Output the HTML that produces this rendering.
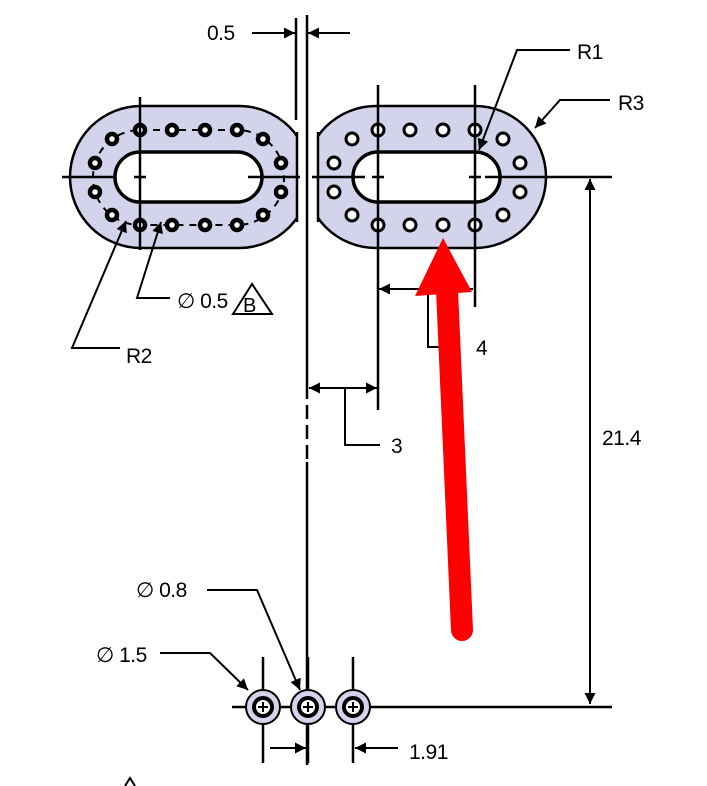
<!DOCTYPE html>
<html><head><meta charset="utf-8"><style>html,body{margin:0;padding:0;background:#fff}svg{display:block}text{font-family:"Liberation Sans",sans-serif;font-size:21px;fill:#000;letter-spacing:-0.5px}</style></head><body>
<svg width="707" height="786" viewBox="0 0 707 786" xmlns="http://www.w3.org/2000/svg">
<defs>
<marker id="a" viewBox="0 0 10 10" refX="10" refY="5" markerWidth="20" markerHeight="11" markerUnits="userSpaceOnUse" orient="auto"><path d="M0,0L10,5L0,10z" fill="#000"/></marker>
<clipPath id="cl"><rect x="0" y="0" width="297" height="786"/></clipPath>
<clipPath id="cr"><rect x="318" y="0" width="400" height="786"/></clipPath>
</defs>
<g stroke="#000" stroke-width="2.5" fill="none">
<g clip-path="url(#cl)"><rect x="70" y="106" width="240" height="142" rx="71" fill="#d3d3ec"/></g>
<line x1="297" y1="132" x2="297" y2="222"/>
<g clip-path="url(#cr)"><rect x="305" y="106" width="241" height="142" rx="71" fill="#d3d3ec"/></g>
<line x1="318" y1="132" x2="318" y2="222"/>
<rect x="115" y="152" width="147" height="50" rx="25" fill="#fff" stroke-width="3.5"/>
<rect x="353" y="152" width="147" height="50" rx="25" fill="#fff" stroke-width="3.5"/>
<rect x="93" y="130" width="191" height="95" rx="47" stroke-width="2" stroke-dasharray="7,6"/>
</g>
<g stroke="#000" stroke-width="3" fill="#fff">
<circle cx="378" cy="130" r="6"/><circle cx="410" cy="130" r="6"/><circle cx="443" cy="130" r="6"/><circle cx="475" cy="130" r="6"/>
<circle cx="378" cy="225" r="6"/><circle cx="410" cy="225" r="6"/><circle cx="443" cy="225" r="6"/><circle cx="475" cy="225" r="6"/>
<circle cx="352" cy="139" r="6"/><circle cx="334" cy="163" r="6"/><circle cx="334" cy="192" r="6"/><circle cx="352" cy="215" r="6"/>
<circle cx="503" cy="139" r="6"/><circle cx="520" cy="163" r="6"/><circle cx="520" cy="192" r="6"/><circle cx="503" cy="215" r="6"/>
</g>
<g stroke="#000" stroke-width="4.5" fill="#fff">
<circle cx="140" cy="130" r="5"/><circle cx="172" cy="130" r="5"/><circle cx="205" cy="130" r="5"/><circle cx="237" cy="130" r="5"/>
<circle cx="140" cy="225" r="5"/><circle cx="172" cy="225" r="5"/><circle cx="205" cy="225" r="5"/><circle cx="237" cy="225" r="5"/>
<circle cx="112" cy="139" r="5"/><circle cx="95" cy="163" r="5"/><circle cx="95" cy="192" r="5"/><circle cx="112" cy="215" r="5"/>
<circle cx="263" cy="139" r="5"/><circle cx="281" cy="163" r="5"/><circle cx="281" cy="192" r="5"/><circle cx="263" cy="215" r="5"/>
</g>
<g stroke="#000" stroke-width="2.5" fill="none">
<line x1="62" y1="177" x2="115" y2="177"/><line x1="248" y1="177" x2="300" y2="177"/>
<line x1="312" y1="177" x2="365" y2="177"/><line x1="485" y1="177" x2="612" y2="177"/>
<path d="M134,177h12M372,177h12M469,177h12"/>
<line x1="140" y1="97" x2="140" y2="250"/>
<line x1="378" y1="85" x2="378" y2="410"/>
<line x1="475" y1="85" x2="475" y2="307"/>
<line x1="307" y1="15" x2="307" y2="385"/>
<line x1="307" y1="385" x2="307" y2="462" stroke-dasharray="14,6"/>
<line x1="307" y1="462" x2="307" y2="765"/>
<line x1="296" y1="18" x2="296" y2="120"/>
<line x1="252" y1="33" x2="295" y2="33" marker-end="url(#a)" stroke-width="2"/>
<line x1="350" y1="33" x2="308" y2="33" marker-end="url(#a)" stroke-width="2"/>
<polyline points="570,50 517,50 479,150" stroke-width="2" marker-end="url(#a)"/>
<polyline points="610,100 560,100 535,128" stroke-width="2" marker-end="url(#a)"/>
<polyline points="120,348 72,348 126,221" stroke-width="2" marker-end="url(#a)"/>
<polyline points="170,298 137,298 161,222" stroke-width="2" marker-end="url(#a)"/>
<polygon points="252,284 233,314 272,314" stroke-width="2"/>
<line x1="473" y1="289" x2="379" y2="289" stroke-width="2" marker-end="url(#a)"/>
<polyline points="428,289 428,347 458,347" stroke-width="2"/>
<line x1="345" y1="388" x2="309" y2="388" stroke-width="2" marker-end="url(#a)"/>
<line x1="345" y1="388" x2="377" y2="388" stroke-width="2" marker-end="url(#a)"/>
<polyline points="345,388 345,445 380,445" stroke-width="2"/>
<line x1="590" y1="440" x2="590" y2="179" stroke-width="2" marker-end="url(#a)"/>
<line x1="590" y1="440" x2="590" y2="704" stroke-width="2" marker-end="url(#a)"/>
<line x1="232" y1="707" x2="612" y2="707"/>
<line x1="263" y1="657" x2="263" y2="763"/><line x1="308" y1="657" x2="308" y2="763"/><line x1="353" y1="657" x2="353" y2="763"/>
</g>
<g stroke="#000">
<circle cx="263" cy="707" r="17" fill="#d3d3ec" stroke-width="2"/><circle cx="263" cy="707" r="9" fill="#fff" stroke-width="4"/>
<circle cx="308" cy="707" r="17" fill="#d3d3ec" stroke-width="2"/><circle cx="308" cy="707" r="9" fill="#fff" stroke-width="4"/>
<circle cx="353" cy="707" r="17" fill="#d3d3ec" stroke-width="2"/><circle cx="353" cy="707" r="9" fill="#fff" stroke-width="4"/>
<path d="M258,707h10M263,702v10M303,707h10M308,702v10M348,707h10M353,702v10" stroke-width="2"/>
</g>
<g stroke="#000" stroke-width="2" fill="none">
<line x1="270" y1="748" x2="306" y2="748" marker-end="url(#a)"/>
<line x1="398" y1="748" x2="355" y2="748" marker-end="url(#a)"/>
<polyline points="160,653 210,653 248,690" marker-end="url(#a)"/>
<polyline points="207,590 257,590 300,690" marker-end="url(#a)"/>
<polyline points="125,786 130,778 135,786"/>
</g>
<line x1="462" y1="630" x2="447" y2="290" stroke="#ff0000" stroke-width="22" stroke-linecap="round"/>
<polygon points="443,238 415,296 472,292" fill="#ff0000"/>
<text x="207" y="40">0.5</text>
<text x="577" y="59">R1</text>
<text x="618" y="110">R3</text>
<text x="126" y="363">R2</text>
<text x="177" y="308">∅ 0.5</text>
<text x="243" y="312" style="font-size:20px">B</text>
<text x="476" y="355">4</text>
<text x="391" y="453">3</text>
<text x="602" y="445">21.4</text>
<text x="136" y="597">∅ 0.8</text>
<text x="96" y="662">∅ 1.5</text>
<text x="409" y="759">1.91</text>
</svg>
</body></html>
